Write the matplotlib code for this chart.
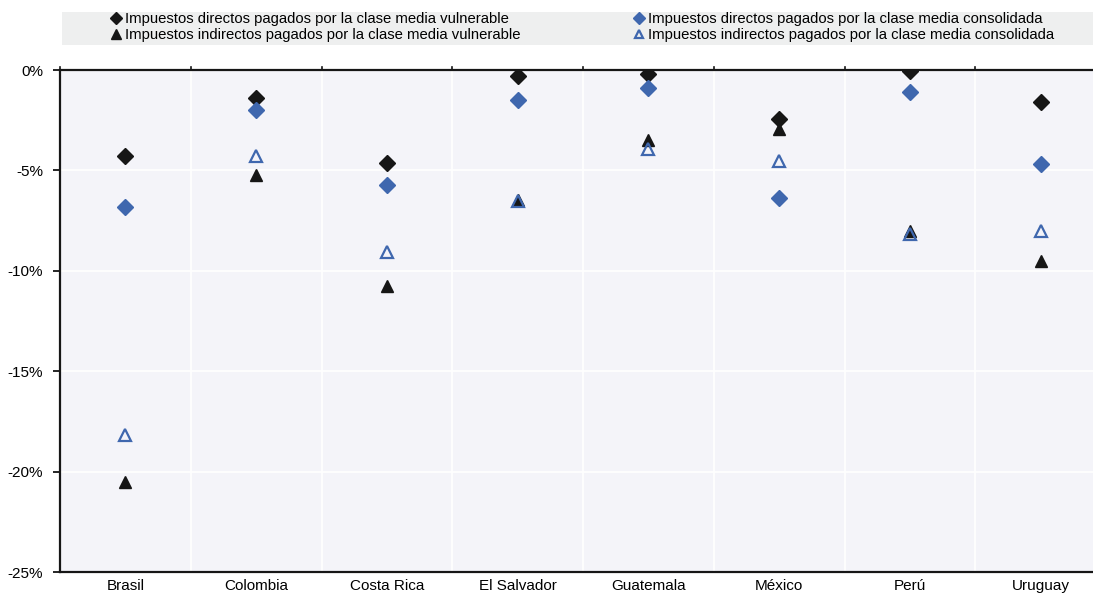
import numpy as np
import matplotlib.pyplot as plt
from matplotlib.patches import Rectangle
from matplotlib.ticker import FuncFormatter

paises = ["Brasil", "Colombia", "Costa Rica", "El Salvador", "Guatemala", "México", "Perú", "Uruguay"]
dir_vulnerable = [-4.3, -1.4, -4.65, -0.3, -0.2, -2.45, -0.05, -1.6]
dir_consolidada = [-6.8, -2.0, -5.75, -1.5, -0.9, -6.35, -1.1, -4.7]
ind_vulnerable = [-20.5, -5.25, -10.75, -6.45, -3.5, -2.95, -8.0, -9.5]
ind_consolidada = [-18.2, -4.3, -9.05, -6.5, -3.95, -4.55, -8.15, -8.0]

negro = "#161616"
azul = "#3F67AE"

plt.rcParams['font.family'] = ['Liberation Sans', 'DejaVu Sans']
W, H = 1093, 594
fig = plt.figure(figsize=(W / 100, H / 100), dpi=100)
# el área del gráfico sigue un poco más allá del borde derecho
ax = fig.add_axes([60 / W, 22 / H, (1106 - 60) / W, (572 - 70) / H])
ax.set_facecolor("#F4F4F9")

x = np.arange(len(paises))
h1, = ax.plot(x, dir_vulnerable, 'D', color=negro, ms=8, ls='none', zorder=4,
              label="Impuestos directos pagados por la clase media vulnerable")
h2, = ax.plot(x, dir_consolidada, 'D', color=azul, ms=8, ls='none', zorder=4,
              label="Impuestos directos pagados por la clase media consolidada")
h3, = ax.plot(x, ind_vulnerable, '^', color=negro, ms=9, ls='none', zorder=4,
              label="Impuestos indirectos pagados por la clase media vulnerable")
h4, = ax.plot(x, ind_consolidada, '^', color=azul, mfc='none', mew=1.6, ms=8.5, ls='none', zorder=4,
              label="Impuestos indirectos pagados por la clase media consolidada")

ax.set_xlim(-0.5, len(paises) - 0.5)
ax.set_ylim(-25, 0)
ax.set_yticks([0, -5, -10, -15, -20, -25])
ax.yaxis.set_major_formatter(FuncFormatter(lambda v, p: f"{v:.0f}%"))
ax.set_xticks(x)
ax.set_xticklabels(paises)
ax.set_xticks(np.arange(len(paises)) + 0.5, minor=True)
ax.tick_params(axis='x', which='major', length=0, labelsize=11, pad=5)
ax.tick_params(axis='x', which='minor', length=0)
ax.tick_params(axis='y', length=5, width=1.2, labelsize=11, pad=7)

ax.grid(True, which='minor', axis='x', color='white', lw=1.2)
ax.grid(True, which='major', axis='y', color='white', lw=1.2)
ax.set_axisbelow(True)

for s in ['left', 'bottom', 'top']:
    ax.spines[s].set_color(negro)
    ax.spines[s].set_linewidth(1.6)
ax.spines['right'].set_visible(False)

# pequeñas marcas sobre la línea del 0%
for b in np.arange(len(paises) + 1) - 0.5:
    ax.plot([b, b], [0, 0.15], color=negro, lw=1.2, clip_on=False, zorder=5)

# fondo de la leyenda
fig.patches.append(Rectangle((62 / W, 1 - 45 / H), 1 - 62 / W, 33 / H,
                             transform=fig.transFigure, facecolor="#EEEFEF", edgecolor='none', zorder=0))

kw = dict(loc='upper left', frameon=False, fontsize=10.7, handlelength=0.7, handletextpad=0.25,
          borderpad=0, borderaxespad=0, labelspacing=0.15, markerscale=0.75)
fig.legend(handles=[h1, h3], bbox_to_anchor=(111 / W, 1 - 12 / H), **kw)
fig.legend(handles=[h2, h4], bbox_to_anchor=(634 / W, 1 - 12 / H), **kw)

fig.savefig("out.png", dpi=100)
